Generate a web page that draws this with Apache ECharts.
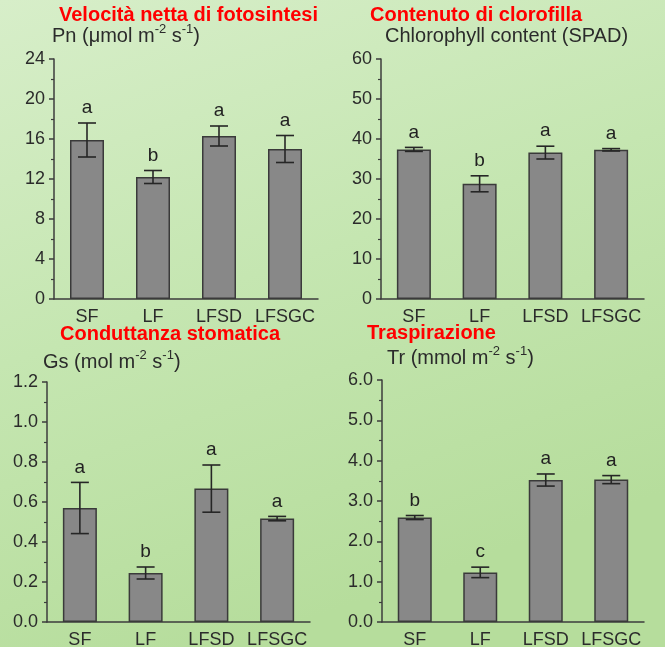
<!DOCTYPE html>
<html>
<head>
<meta charset="utf-8">
<script src="https://cdn.jsdelivr.net/npm/echarts@6/dist/echarts.min.js"></script>
<style>
  html, body { margin: 0; padding: 0; }
  #chart { width: 665px; height: 647px; }
</style>
</head>
<body>
<div id="chart"></div>
<script>
// Treatments
const categories = ['SF', 'LF', 'LFSD', 'LFSGC'];

// Net photosynthesis rate Pn (µmol m-2 s-1)
const pnMean = [15.9, 12.2, 16.3, 15.0];
const pnErr = [1.7, 0.65, 1.0, 1.35];
const pnLetters = ['a', 'b', 'a', 'a'];

// Chlorophyll content (SPAD)
const spadMean = [37.4, 28.8, 36.6, 37.3];
const spadErr = [0.5, 2.0, 1.6, 0.3];
const spadLetters = ['a', 'b', 'a', 'a'];

// Stomatal conductance Gs (mol m-2 s-1)
const gsMean = [0.57, 0.245, 0.667, 0.517];
const gsErr = [0.128, 0.03, 0.118, 0.011];
const gsLetters = ['a', 'b', 'a', 'a'];

// Transpiration Tr (mmol m-2 s-1)
const trMean = [2.59, 1.23, 3.52, 3.53];
const trErr = [0.05, 0.13, 0.15, 0.1];
const trLetters = ['b', 'c', 'a', 'a'];

const FONT = '"Liberation Sans", Arial, sans-serif';
const AXIS_COLOR = '#3c3c3c';
const TEXT_COLOR = '#2b2b2b';

const panels = [
  { mean: pnMean, err: pnErr, letters: pnLetters, min: 0, max: 24, interval: 4, digits: 0,
    grid: { left: 54, top: 59, width: 264, height: 240 } },
  { mean: spadMean, err: spadErr, letters: spadLetters, min: 0, max: 60, interval: 10, digits: 0,
    grid: { left: 381, top: 59, width: 263, height: 240 } },
  { mean: gsMean, err: gsErr, letters: gsLetters, min: 0, max: 1.2, interval: 0.2, digits: 1,
    grid: { left: 47, top: 382, width: 263, height: 240 } },
  { mean: trMean, err: trErr, letters: trLetters, min: 0, max: 6, interval: 1, digits: 1,
    grid: { left: 382, top: 380, width: 262, height: 242 } }
];

const grids = [], xAxes = [], yAxes = [], series = [];

panels.forEach((p, i) => {
  grids.push(Object.assign({ containLabel: false, outerBoundsMode: 'none' }, p.grid));
  xAxes.push({
    type: 'category', gridIndex: i, data: categories,
    axisLine: { lineStyle: { color: AXIS_COLOR, width: 1.5 } },
    axisTick: { alignWithLabel: true, length: 5, lineStyle: { color: AXIS_COLOR, width: 1.5 } },
    axisLabel: { interval: 0, fontFamily: FONT, fontSize: 18, color: TEXT_COLOR, margin: 9 }
  });
  yAxes.push({
    type: 'value', gridIndex: i, min: p.min, max: p.max, interval: p.interval,
    splitLine: { show: false },
    axisLine: { show: true, lineStyle: { color: AXIS_COLOR, width: 1.5 } },
    axisTick: { show: true, length: 5, lineStyle: { color: AXIS_COLOR, width: 1.5 } },
    minorTick: { show: true, splitNumber: 2, length: 3, lineStyle: { color: AXIS_COLOR, width: 1.2 } },
    axisLabel: {
      fontFamily: FONT, fontSize: 18, color: TEXT_COLOR, margin: 9,
      formatter: v => v.toFixed(p.digits)
    }
  });
  series.push({
    type: 'bar', xAxisIndex: i, yAxisIndex: i, data: p.mean, barWidth: 34,
    itemStyle: { color: '#888888', borderColor: '#3a3a3a', borderWidth: 1.5 },
    silent: true
  });
  const letters = p.letters;
  series.push({
    type: 'custom', xAxisIndex: i, yAxisIndex: i, z: 5, silent: true,
    data: p.mean.map((m, k) => [k, m, p.err[k]]),
    encode: { x: 0, y: 1 },
    renderItem: (params, api) => {
      const x = api.value(0), m = api.value(1), e = api.value(2);
      const hi = api.coord([x, m + e]);
      const lo = api.coord([x, m - e]);
      const cap = 9;
      const ls = { stroke: '#262626', lineWidth: 1.6 };
      return {
        type: 'group',
        children: [
          { type: 'line', shape: { x1: hi[0], y1: hi[1], x2: lo[0], y2: lo[1] }, style: ls },
          { type: 'line', shape: { x1: hi[0] - cap, y1: hi[1], x2: hi[0] + cap, y2: hi[1] }, style: ls },
          { type: 'line', shape: { x1: lo[0] - cap, y1: lo[1], x2: lo[0] + cap, y2: lo[1] }, style: ls },
          { type: 'text', x: hi[0], y: hi[1] - 15,
            style: { text: letters[params.dataIndex], fill: '#222', font: '19px ' + FONT,
                     align: 'center', verticalAlign: 'middle' } }
        ]
      };
    }
  });
});

// Red headings and unit labels
const redStyle = { color: '#ff0000', fontSize: 20, fontWeight: 'bold', fontFamily: FONT };
const unitRich = {
  n: { fontSize: 20, color: TEXT_COLOR, fontFamily: FONT, fontWeight: 'normal', verticalAlign: 'bottom', lineHeight: 23 },
  s: { fontSize: 13, color: TEXT_COLOR, fontFamily: FONT, fontWeight: 'normal', verticalAlign: 'top', lineHeight: 23 }
};
function unitTitle(text, left, top) {
  return { text: text, left: left, top: top, padding: 0,
           textStyle: { fontWeight: 'normal', fontFamily: FONT, rich: unitRich } };
}

const titles = [
  { text: 'Velocità netta di fotosintesi', left: 59, top: 5, padding: 0, textStyle: redStyle },
  unitTitle('{n|Pn (μmol m}{s|-2}{n| s}{s|-1}{n|)}', 52, 23),
  { text: 'Contenuto di clorofilla', left: 370, top: 5, padding: 0, textStyle: redStyle },
  { text: 'Chlorophyll content (SPAD)', left: 385, top: 26, padding: 0,
    textStyle: { fontSize: 20, color: TEXT_COLOR, fontFamily: FONT, fontWeight: 'normal' } },
  { text: 'Conduttanza stomatica', left: 60, top: 324, padding: 0, textStyle: redStyle },
  unitTitle('{n|Gs (mol m}{s|-2}{n| s}{s|-1}{n|)}', 43, 349),
  { text: 'Traspirazione', left: 367, top: 323, padding: 0, textStyle: redStyle },
  unitTitle('{n|Tr (mmol m}{s|-2}{n| s}{s|-1}{n|)}', 387, 345)
];

const chart = echarts.init(document.getElementById('chart'), null, { renderer: 'canvas' });
chart.setOption({
  animation: false,
  backgroundColor: {
    type: 'linear', x: 0, y: 0, x2: 0.35, y2: 1,
    colorStops: [
      { offset: 0, color: '#d7eec9' },
      { offset: 0.5, color: '#c5e6b1' },
      { offset: 1, color: '#b6dd9c' }
    ]
  },
  title: titles,
  grid: grids,
  xAxis: xAxes,
  yAxis: yAxes,
  series: series
});
</script>
</body>
</html>
